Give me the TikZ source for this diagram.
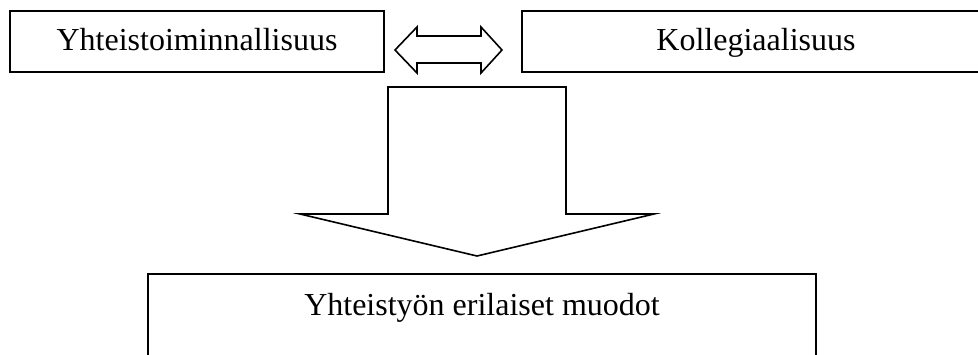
\documentclass[tikz,border=0pt]{standalone}
\usepackage{fontspec}
\setmainfont{Liberation Serif}
\begin{document}
\begin{tikzpicture}[x=1pt,y=-1pt,
  box/.style={draw, line width=1.6pt, rectangle, inner sep=0pt, text height=24pt, text depth=7pt, font=\fontsize{32}{38}\selectfont},
  blockarrow/.style={draw, line width=1.6pt, line join=miter, fill=white}]
\useasboundingbox (0,0) rectangle (978,354);
\clip (0,0) rectangle (978,354);
\node[box, minimum width=374pt, minimum height=61pt] (yht) at (197,41.5) {Yhteistoiminnallisuus};
\node[box, minimum width=468pt, minimum height=61pt] (kol) at (756,41.5) {Kollegiaalisuus};
\node[box, minimum width=668pt, minimum height=140pt] (muo) at (482,344) {};
\node[font=\fontsize{32}{38}\selectfont, inner sep=0pt, text height=24pt, text depth=7pt] (muotext) at (482,306.5) {Yhteistyön erilaiset muodot};
% double block arrow between the two upper boxes
\draw[blockarrow] (395,50) -- (417,27) -- (417,36) -- (481,36) -- (481,27) -- (502,50)
  -- (481,73) -- (481,63) -- (417,63) -- (417,73) -- cycle;
% big downward block arrow
\draw[blockarrow] (388,87) -- (566,87) -- (566,214) -- (654,214) -- (477,256)
  -- (300,214) -- (388,214) -- cycle;
\end{tikzpicture}
\end{document}
